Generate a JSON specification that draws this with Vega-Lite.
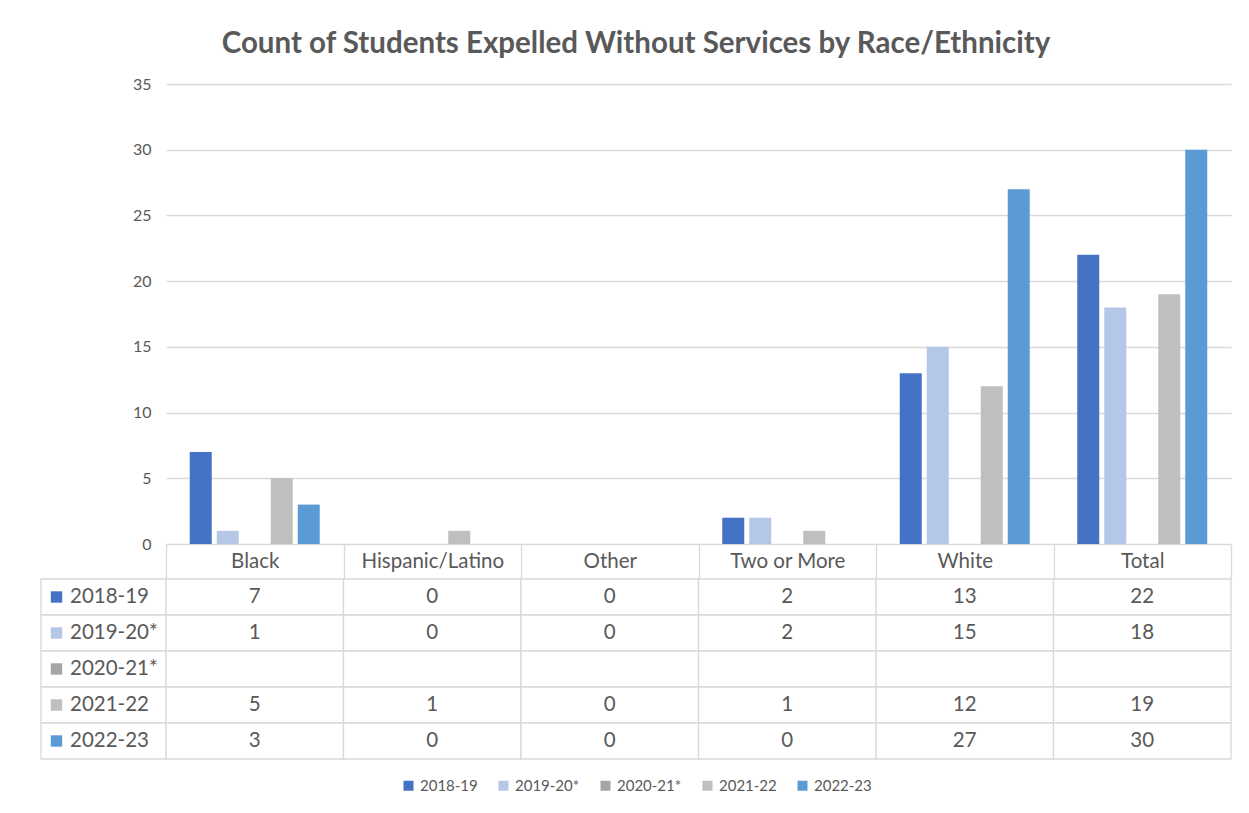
{
  "$schema": "https://vega.github.io/schema/vega-lite/v6.json",
  "background": "white",
  "padding": {"left": 40, "top": 28, "right": 10, "bottom": 5},
  "title": {
    "text": "Count of Students Expelled Without Services by Race/Ethnicity",
    "anchor": "middle",
    "offset": 17
  },
  "datasets": {
    "counts": [
      {"category": "Black", "year": "2018-19", "count": 7},
      {"category": "Black", "year": "2019-20*", "count": 1},
      {"category": "Black", "year": "2020-21*", "count": null},
      {"category": "Black", "year": "2021-22", "count": 5},
      {"category": "Black", "year": "2022-23", "count": 3},
      {"category": "Hispanic/Latino", "year": "2018-19", "count": 0},
      {"category": "Hispanic/Latino", "year": "2019-20*", "count": 0},
      {"category": "Hispanic/Latino", "year": "2020-21*", "count": null},
      {"category": "Hispanic/Latino", "year": "2021-22", "count": 1},
      {"category": "Hispanic/Latino", "year": "2022-23", "count": 0},
      {"category": "Other", "year": "2018-19", "count": 0},
      {"category": "Other", "year": "2019-20*", "count": 0},
      {"category": "Other", "year": "2020-21*", "count": null},
      {"category": "Other", "year": "2021-22", "count": 0},
      {"category": "Other", "year": "2022-23", "count": 0},
      {"category": "Two or More", "year": "2018-19", "count": 2},
      {"category": "Two or More", "year": "2019-20*", "count": 2},
      {"category": "Two or More", "year": "2020-21*", "count": null},
      {"category": "Two or More", "year": "2021-22", "count": 1},
      {"category": "Two or More", "year": "2022-23", "count": 0},
      {"category": "White", "year": "2018-19", "count": 13},
      {"category": "White", "year": "2019-20*", "count": 15},
      {"category": "White", "year": "2020-21*", "count": null},
      {"category": "White", "year": "2021-22", "count": 12},
      {"category": "White", "year": "2022-23", "count": 27},
      {"category": "Total", "year": "2018-19", "count": 22},
      {"category": "Total", "year": "2019-20*", "count": 18},
      {"category": "Total", "year": "2020-21*", "count": null},
      {"category": "Total", "year": "2021-22", "count": 19},
      {"category": "Total", "year": "2022-23", "count": 30}
    ]
  },
  "columns": 2,
  "bounds": "flush",
  "spacing": {"row": 35, "column": 0},
  "resolve": {"scale": {"color": "shared"}, "legend": {"color": "shared"}},
  "concat": [
    {
      "width": 125,
      "height": 460,
      "data": {"values": []},
      "mark": "rect",
      "encoding": {}
    },
    {
      "width": 1065,
      "height": 460,
      "data": {"name": "counts"},
      "mark": {"type": "bar"},
      "encoding": {
        "x": {
          "field": "category",
          "type": "nominal",
          "sort": ["Black", "Hispanic/Latino", "Other", "Two or More", "White", "Total"],
          "scale": {"paddingInner": 0.2676, "paddingOuter": 0.1338},
          "axis": null
        },
        "xOffset": {
          "field": "year",
          "type": "nominal",
          "sort": ["2018-19", "2019-20*", "2020-21*", "2021-22", "2022-23"],
          "scale": {
            "domain": ["2018-19", "2019-20*", "2020-21*", "2021-22", "2022-23"],
            "paddingInner": 0.185,
            "paddingOuter": 0
          }
        },
        "y": {
          "field": "count",
          "type": "quantitative",
          "scale": {"domain": [0, 35]},
          "axis": {
            "values": [0, 5, 10, 15, 20, 25, 30, 35],
            "title": null,
            "domain": false,
            "ticks": false,
            "tickSize": 0,
            "labelPadding": 15,
            "labelFontSize": 16,
            "gridColor": "#D9D9D9",
            "gridWidth": 1.3
          }
        },
        "color": {
          "field": "year",
          "type": "nominal",
          "title": null,
          "scale": {
            "domain": ["2018-19", "2019-20*", "2020-21*", "2021-22", "2022-23"],
            "range": ["#4472C4", "#B4C7E7", "#A5A5A5", "#BFBFBF", "#5B9BD5"]
          }
        }
      }
    },
    {
      "width": 125,
      "height": 180,
      "data": {"name": "counts"},
      "transform": [{"filter": "datum.category == 'Black'"}],
      "encoding": {
        "y": {
          "field": "year",
          "type": "nominal",
          "sort": ["2018-19", "2019-20*", "2020-21*", "2021-22", "2022-23"],
          "scale": {"paddingInner": 0, "paddingOuter": 0},
          "axis": null
        }
      },
      "layer": [
        {
          "mark": {"type": "rect", "fill": "white", "stroke": "#D9D9D9", "strokeWidth": 1.3}
        },
        {
          "mark": {"type": "point", "shape": "square", "filled": true, "size": 130, "opacity": 1, "xOffset": -47},
          "encoding": {
            "color": {
              "field": "year",
              "type": "nominal",
              "title": null,
              "scale": {
                "domain": ["2018-19", "2019-20*", "2020-21*", "2021-22", "2022-23"],
                "range": ["#4472C4", "#B4C7E7", "#A5A5A5", "#BFBFBF", "#5B9BD5"]
              }
            }
          }
        },
        {
          "mark": {"type": "text", "align": "left", "dx": -33.5, "fontSize": 20.5, "color": "#595959"},
          "encoding": {"text": {"field": "year", "type": "nominal"}}
        }
      ]
    },
    {
      "width": 1065,
      "height": 180,
      "data": {"name": "counts"},
      "encoding": {
        "x": {
          "field": "category",
          "type": "nominal",
          "sort": ["Black", "Hispanic/Latino", "Other", "Two or More", "White", "Total"],
          "scale": {"paddingInner": 0, "paddingOuter": 0},
          "axis": {
            "orient": "top",
            "title": null,
            "domain": false,
            "tickBand": "extent",
            "tickSize": 35,
            "tickColor": "#D9D9D9",
            "tickWidth": 1.3,
            "labelAngle": 0,
            "labelFontSize": 20.5,
            "labelBaseline": "middle",
            "labelPadding": -17.5
          }
        },
        "y": {
          "field": "year",
          "type": "nominal",
          "sort": ["2018-19", "2019-20*", "2020-21*", "2021-22", "2022-23"],
          "scale": {"paddingInner": 0, "paddingOuter": 0},
          "axis": null
        }
      },
      "layer": [
        {
          "mark": {"type": "rect", "fill": "white", "stroke": "#D9D9D9", "strokeWidth": 1.3}
        },
        {
          "transform": [{"filter": "isValid(datum.count)"}],
          "mark": {"type": "text", "fontSize": 20.5, "color": "#595959"},
          "encoding": {"text": {"field": "count", "type": "quantitative"}}
        }
      ]
    }
  ],
  "config": {
    "font": "Lato",
    "view": {"stroke": null},
    "title": {"fontSize": 29.5, "fontWeight": "bold", "color": "#595959", "font": "Lato"},
    "axis": {"labelColor": "#595959", "labelFont": "Lato"},
    "legend": {
      "orient": "bottom",
      "direction": "horizontal",
      "layout": {"bottom": {"anchor": "middle"}},
      "symbolType": "square",
      "symbolSize": 100,
      "symbolStrokeWidth": 0,
      "symbolOpacity": 1,
      "labelFontSize": 15,
      "labelColor": "#595959",
      "labelFont": "Lato",
      "columnPadding": 18,
      "offset": 18
    }
  }
}
